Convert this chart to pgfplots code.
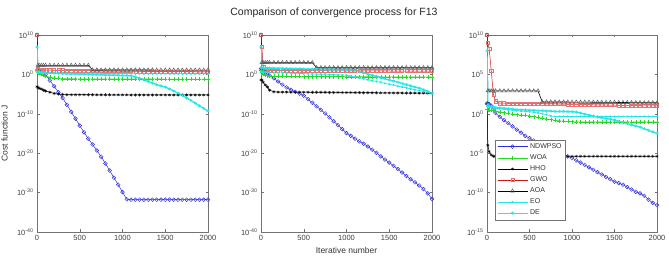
\documentclass[border=0pt]{standalone}
\usepackage{fontspec}
\setmainfont{Liberation Sans}
\usepackage{pgfplots}
\usepackage{pgfplotstable}
\pgfplotsset{compat=1.18}

\definecolor{ndc}{rgb}{0.18,0.18,0.85}
\definecolor{woac}{rgb}{0.15,0.85,0.15}
\definecolor{gwoc}{rgb}{0.8,0.1,0.1}
\definecolor{gwom}{rgb}{0.9,0.45,0.45}
\definecolor{cyc}{rgb}{0.15,0.9,0.9}
\definecolor{axc}{rgb}{0.45,0.45,0.45}

\pgfplotstableread{
x nd woa hho gwo aoa eo de
0 1e1 1e1 8e-4 1e10 1e10 5 1e7
10 1e1 3 5e-4 2e1 2e2 3 4
25 8 2 3e-4 1.6e1 2e2 3 3.5
50 4 1 2e-4 1.4e1 2e2 2.8 3.2
75 2 0.6 1e-4 1.3e1 2e2 2.8 2.8
100 1 0.4 6e-5 1.2e1 2e2 2.7 2.5
150 3e-2 0.2 3e-5 1.2e1 2e2 2.6 2.2
200 1e-3 0.12 1.5e-5 1.1e1 2e2 2.5 2
250 3e-5 0.1 1e-5 1.1e1 2e2 2.4 1.8
300 1e-6 0.08 8e-6 1.1e1 2e2 2.3 1.6
350 2e-8 0.08 7e-6 1e1 2e2 2.2 1.4
400 3e-10 0.08 7e-6 1e1 2e2 2.1 1.26
450 6e-12 0.08 7e-6 1e1 2e2 2 1.26
500 1e-13 0.075 7e-6 9.5 2e2 2 1.1
550 2e-15 0.075 7e-6 9.5 2e2 1.9 1
600 5e-17 0.075 7e-6 9 2e2 1.9 1
650 1.6e-18 0.075 7e-6 9 1.3e1 1.8 0.9
700 5e-20 0.075 6.5e-6 9 1.3e1 1.8 0.8
750 1.3e-21 0.072 6.5e-6 8.5 1.3e1 1.8 0.8
800 2.5e-23 0.072 6.5e-6 8.5 1.3e1 1.7 0.7
850 4e-25 0.072 6.5e-6 8 1.3e1 1.7 0.63
900 6e-27 0.07 6.5e-6 8 1.3e1 1.7 0.63
950 1e-28 0.07 6.5e-6 7.5 1.3e1 1.6 0.56
1000 1.3e-30 0.07 6.5e-6 7 1.3e1 1.6 0.5
1050 2e-32 0.07 6.5e-6 7 1.3e1 1.6 0.5
1100 1.6e-32 0.07 6e-6 6.8 1.3e1 1.6 0.45
1150 1.6e-32 0.07 6e-6 6.6 1.3e1 1.5 0.25
1200 1.6e-32 0.07 6e-6 6.4 1.3e1 1.5 0.1
1250 1.6e-32 0.068 6e-6 6.2 1.3e1 1.5 0.04
1300 1.6e-32 0.068 6e-6 6 1.3e1 1.5 1.6e-2
1350 1.6e-32 0.068 6e-6 5.8 1.3e1 1.5 6.3e-3
1400 1.6e-32 0.068 6e-6 5.7 1.2e1 1.5 2.5e-3
1450 1.6e-32 0.068 6e-6 5.6 1.2e1 1.5 1.26e-3
1500 1.6e-32 0.067 6e-6 5.5 1.2e1 1.5 6.3e-4
1550 1.6e-32 0.067 6e-6 5.3 1.2e1 1.4 2e-4
1600 1.6e-32 0.067 6e-6 5.2 1.2e1 1.4 6.3e-5
1650 1.6e-32 0.067 6e-6 5.1 1.2e1 1.4 1.6e-5
1700 1.6e-32 0.066 6e-6 5 1.2e1 1.4 5e-6
1750 1.6e-32 0.066 6e-6 4.9 1.2e1 1.4 1e-6
1800 1.6e-32 0.066 6e-6 4.8 1.2e1 1.4 2.5e-7
1850 1.6e-32 0.066 6e-6 4.7 1.2e1 1.4 5e-8
1900 1.6e-32 0.065 6e-6 4.6 1.2e1 1.4 1e-8
1950 1.6e-32 0.065 6e-6 4.5 1.2e1 1.4 2.5e-9
2000 1.6e-32 0.065 6e-6 4.5 1.2e1 1.4 5e-10
}\tabA

\pgfplotstableread{
x nd woa hho gwo aoa eo de
0 3.2e1 1e1 4e-2 1e10 1e10 5 1e7
10 2e1 3 4e-2 1e7 1e3 3.2 5e1
25 1e1 1.5 1e-2 1e2 1e3 3.1 4.5e1
50 3.2 0.8 2e-3 1.5e1 1e3 3 4e1
75 1.26 0.5 6e-4 1.2e1 1e3 2.9 4e1
100 0.5 0.4 1e-4 1e1 1e3 2.8 4e1
150 0.1 0.35 4e-5 1e1 1e3 2.7 3.8e1
200 1.6e-2 0.32 3.2e-5 1e1 1e3 2.5 3.5e1
250 2.5e-3 0.3 3.2e-5 1e1 1e3 2.4 3.3e1
300 5e-4 0.3 3.2e-5 9.5 1e3 2.2 3.2e1
350 1.26e-4 0.3 3e-5 9.5 1e3 2.1 3e1
400 4e-5 0.3 3e-5 9.5 1e3 2 2.8e1
450 1.26e-5 0.3 3e-5 9 1e3 1.8 2.7e1
500 4e-6 0.28 3e-5 9 1e3 1.6 2.5e1
550 5e-7 0.28 3e-5 9 1e3 1.4 2.4e1
600 6.3e-8 0.28 2.8e-5 9 1e3 1.26 2.2e1
650 7.9e-9 0.28 2.8e-5 8.5 5e1 1.2 2.1e1
700 1e-9 0.28 2.8e-5 8.5 5e1 1.1 2e1
750 1.26e-10 0.27 2.8e-5 8.5 5e1 1.05 1.9e1
800 1.26e-11 0.27 2.6e-5 8.5 5e1 1 1.8e1
850 1.26e-12 0.27 2.6e-5 8 5e1 0.9 1.7e1
900 1.26e-13 0.27 2.6e-5 8 5e1 0.8 1.6e1
950 1.26e-14 0.27 2.5e-5 8 5e1 0.7 1.5e1
1000 1.26e-15 0.26 2.5e-5 8 5e1 0.63 1.4e1
1050 2.5e-16 0.26 2.5e-5 7.8 5e1 0.37 1.3e1
1100 5e-17 0.26 2.4e-5 7.8 5e1 0.22 1e1
1150 1e-17 0.26 2.4e-5 7.6 5e1 0.13 5
1200 2.5e-18 0.26 2.3e-5 7.6 5e1 7.9e-2 2.5
1250 5e-19 0.26 2.3e-5 7.5 5e1 4.5e-2 1.26
1300 7.9e-20 0.25 2.2e-5 7.5 5e1 2.5e-2 0.63
1350 1.26e-20 0.25 2.2e-5 7.4 5e1 1.6e-2 0.32
1400 1.6e-21 0.25 2.1e-5 7.4 5e1 1e-2 0.16
1450 2.5e-22 0.25 2.1e-5 7.3 5e1 5e-3 7.9e-2
1500 4e-23 0.25 2e-5 7.3 5e1 3.2e-3 4e-2
1550 6.3e-24 0.25 2e-5 7.2 5e1 2e-3 2e-2
1600 1e-24 0.25 2e-5 7.2 5e1 1e-3 1e-2
1650 1.26e-25 0.25 1.9e-5 7.1 5e1 6.3e-4 5e-3
1700 1.6e-26 0.25 1.9e-5 7.1 5e1 4e-4 2.5e-3
1750 2.5e-27 0.24 1.8e-5 7 5e1 2e-4 1.26e-3
1800 4e-28 0.24 1.8e-5 7 5e1 1.26e-4 6.3e-4
1850 6.3e-29 0.24 1.7e-5 7 5e1 7.9e-5 3.2e-4
1900 7.9e-30 0.24 1.7e-5 7 5e1 5e-5 1.26e-4
1950 6.3e-31 0.24 1.6e-5 7 5e1 2.5e-5 5e-5
2000 2.5e-32 0.24 1.6e-5 7 5e1 1.6e-5 1.6e-5
}\tabB

\pgfplotstableread{
x nd woa hho gwo aoa eo de
0 2e1 4 2e1 1e10 1e10 1e1 1e8
10 2e1 3.5 1e-4 1e9 8e2 8 1.6e1
25 1.6e1 3.2 1.6e-5 2e8 8e2 7 1e1
50 1e1 2.8 6e-6 3e5 8e2 6.3 8
75 4 2.5 4e-6 3e2 8e2 5.6 7
100 1.26 2.2 4e-6 4e1 8e2 5 6.3
150 0.4 1.8 4e-6 2.2e1 8e2 4.5 5.6
200 0.16 1.4 4e-6 2.2e1 8e2 4 5
250 6.3e-2 1.1 4e-6 2.1e1 8e2 3.2 4.5
300 2.5e-2 0.9 4e-6 2.1e1 8e2 2.8 4
350 1e-2 0.8 4e-6 2e1 8e2 2.5 3.5
400 4e-3 0.7 4e-6 2e1 8e2 2.2 3.2
450 1.6e-3 0.63 4e-6 2e1 8e2 2 3.2
500 8e-4 0.56 4e-6 2e1 8e2 1.8 2.8
550 4e-4 0.45 4e-6 1.9e1 8e2 1.6 2.8
600 2e-4 0.35 4e-6 1.9e1 8e2 1.26 2.5
650 1.26e-4 0.28 4e-6 1.9e1 3.2e1 1 2.5
700 6.3e-5 0.22 4e-6 1.8e1 3.2e1 0.8 2.2
750 4e-5 0.18 4e-6 1.8e1 3.2e1 0.5 2.2
800 2e-5 0.15 4e-6 1.8e1 3.2e1 0.45 2
850 1.26e-5 0.13 4e-6 1.7e1 3.1e1 0.45 2
900 6.3e-6 0.12 4e-6 1.7e1 3.1e1 0.45 2
950 4e-6 0.11 4e-6 1.6e1 3.1e1 0.45 1.9
1000 2.5e-6 0.1 4e-6 1.6e1 3e1 0.45 1.9
1050 1.26e-6 0.095 4e-6 1.6e1 3e1 0.45 1.6
1100 6.3e-7 0.095 4e-6 1.5e1 3e1 0.45 1.26
1150 3.2e-7 0.095 4e-6 1.5e1 3e1 0.45 0.9
1200 1.6e-7 0.095 4e-6 1.5e1 3e1 0.45 0.7
1250 7.9e-8 0.095 4e-6 1.4e1 2.9e1 0.45 0.5
1300 4e-8 0.095 4e-6 1.4e1 2.9e1 0.45 0.4
1350 2e-8 0.095 4e-6 1.4e1 2.9e1 0.45 0.32
1400 1e-8 0.095 4e-6 1.3e1 2.8e1 0.45 0.25
1450 5e-9 0.095 4e-6 1.3e1 2.8e1 0.45 0.2
1500 2.5e-9 0.095 4e-6 1.3e1 2.8e1 0.45 0.16
1550 1.6e-9 0.095 4e-6 1.2e1 2.7e1 0.45 0.11
1600 1e-9 0.095 4e-6 1.2e1 2.7e1 0.45 7.9e-2
1650 5e-10 0.095 4e-6 1.2e1 2.7e1 0.45 5.6e-2
1700 2.5e-10 0.095 4e-6 1.1e1 2.6e1 0.45 4e-2
1750 1.26e-10 0.095 4e-6 1.1e1 2.6e1 0.45 2.8e-2
1800 7.9e-11 0.095 4e-6 1.1e1 2.6e1 0.45 2e-2
1850 4e-11 0.095 4e-6 1e1 2.5e1 0.45 1.26e-2
1900 1.26e-11 0.095 4e-6 1e1 2.5e1 0.45 7.9e-3
1950 5e-12 0.095 4e-6 1e1 2.5e1 0.45 5e-3
2000 2.5e-12 0.095 4e-6 1e1 2.5e1 0.45 3.2e-3
}\tabC

\pgfplotsset{
  panel/.style={
    scale only axis, height=197pt,
    xmin=0, xmax=2000, xtick={0,500,1000,1500,2000},
    scaled x ticks=false,
    /pgf/number format/1000 sep={},
    /pgf/number format/assume math mode=true,
    tick label style={font=\fontsize{7.5}{9}\selectfont, text=black!75},
    label style={font=\fontsize{8.5}{10}\selectfont, text=black!80},
    tick align=inside, yminorticks=false, xminorticks=false,
    axis line style={axc}, major tick style={axc},
    major tick length=2.5pt,
    legend image code/.code={\draw[mark repeat=2,mark phase=2,##1] plot coordinates {(0pt,0pt) (15pt,0pt) (30pt,0pt)};},
  },
  ndS/.style={ndc, line width=0.5pt, mark=o, mark size=1.9pt, mark options={solid, line width=0.45pt}},
  woaS/.style={woac, line width=0.5pt, mark=+, mark size=2pt, mark options={solid, line width=0.4pt}},
  hhoS/.style={black, line width=0.5pt, mark=asterisk, mark size=1.6pt, mark options={solid, line width=0.4pt}},
  gwoS/.style={gwoc, line width=0.5pt, mark=square, mark size=1.6pt, mark options={solid, draw=gwom, line width=0.45pt}},
  aoaS/.style={black, line width=0.6pt, mark=triangle, mark size=2.2pt, mark options={solid, draw=black!65, line width=0.45pt}},
  eoS/.style={cyc, line width=0.7pt, mark=*, mark size=0.7pt},
  deS/.style={cyc, line width=1.3pt, mark=asterisk, mark size=1.7pt, mark options={solid, line width=0.5pt}},
}

\newcommand{\plotall}[1]{%
  \addplot[ndS] table[x=x,y=nd]{#1};
  \addplot[woaS] table[x=x,y=woa]{#1};
  \addplot[hhoS] table[x=x,y=hho]{#1};
  \addplot[gwoS] table[x=x,y=gwo]{#1};
  \addplot[aoaS] table[x=x,y=aoa]{#1};
  \addplot[eoS] table[x=x,y=eo]{#1};
  \addplot[deS] table[x=x,y=de]{#1};
}

\begin{document}
\begin{tikzpicture}
\path[use as bounding box] (0,0) rectangle (669pt,259pt);

\begin{axis}[panel, ymode=log, log basis y=10, width=171pt,
  at={(37pt,27pt)}, anchor=south west,
  ymin=1e-40, ymax=1e10,
  ytick={1e-40,1e-30,1e-20,1e-10,1,1e10},
  yticklabels={10\textsuperscript{-40},10\textsuperscript{-30},10\textsuperscript{-20},10\textsuperscript{-10},10\textsuperscript{0},10\textsuperscript{10}},
  ylabel={Cost function J},
  ylabel style={at={(axis description cs:-0.19,0.5)}, anchor=center}]
\plotall{\tabA}
\end{axis}

\begin{axis}[panel, ymode=log, log basis y=10, width=171pt,
  at={(261pt,27pt)}, anchor=south west,
  ymin=1e-40, ymax=1e10,
  ytick={1e-40,1e-30,1e-20,1e-10,1,1e10},
  yticklabels={10\textsuperscript{-40},10\textsuperscript{-30},10\textsuperscript{-20},10\textsuperscript{-10},10\textsuperscript{0},10\textsuperscript{10}},
  xlabel={Iterative number},
  xlabel style={at={(axis description cs:0.5,-0.092)}, anchor=center}]
\plotall{\tabB}
\end{axis}

\begin{axis}[panel, ymode=log, log basis y=10, width=170pt,
  at={(487pt,27pt)}, anchor=south west,
  ymin=1e-15, ymax=1e10,
  ytick={1e-15,1e-10,1e-5,1,1e5,1e10},
  yticklabels={10\textsuperscript{-15},10\textsuperscript{-10},10\textsuperscript{-5},10\textsuperscript{0},10\textsuperscript{5},10\textsuperscript{10}},
  legend style={at={(axis description cs:0.048,0.468)}, anchor=north west,
    draw=axc, fill=white, font=\fontsize{7}{8}\selectfont, text=black!80,
    inner sep=1.5pt, row sep=0.7pt, cells={anchor=west}},
  legend cell align=left]
\plotall{\tabC}
\legend{NDWPSO,WOA,HHO,GWO,AOA,EO,DE}
\end{axis}

\node[font=\fontsize{10.5}{12}\selectfont, text=black!85] at (334pt,246pt) {Comparison of convergence process for F13};
\end{tikzpicture}
\end{document}
